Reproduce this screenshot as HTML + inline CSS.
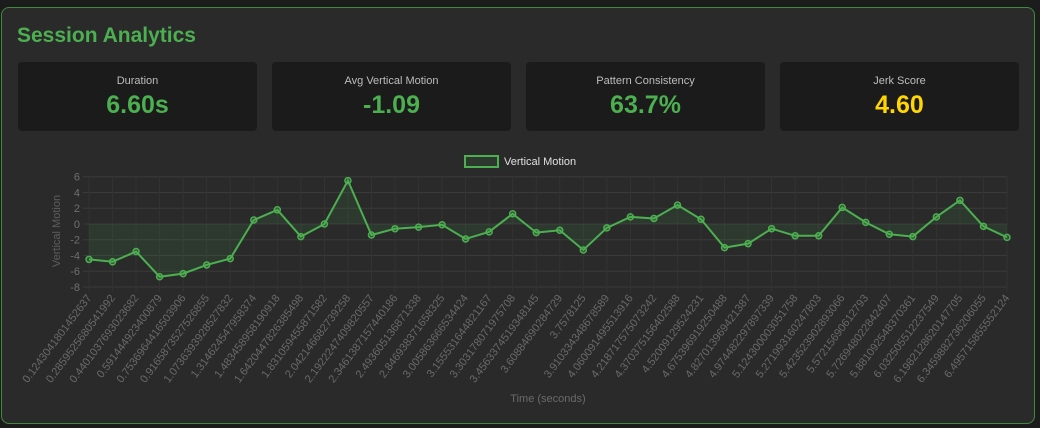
<!DOCTYPE html>
<html><head><meta charset="utf-8"><style>
body{margin:0;width:1040px;height:428px;background:#1c1c1c;font-family:"Liberation Sans",Arial,sans-serif;overflow:hidden;position:relative}
.card{position:absolute;left:1px;top:7px;width:1034px;height:417px;box-sizing:border-box;background:#2a2a2a;border:1px solid #3f8a40;border-radius:8px}
h1{position:absolute;left:17px;top:24px;margin:0;font-size:21px;font-weight:bold;color:#4caf50}
.stat{position:absolute;top:62px;width:239px;height:69px;background:#1b1b1b;border-radius:4px;text-align:center}
.lab{position:absolute;top:13px;width:100%;font-size:11px;color:#bdbdbd}
.val{position:absolute;top:29px;width:100%;font-size:25px;font-weight:bold;color:#4caf50}
svg{position:absolute;left:0;top:0}
</style></head><body>
<div class="card"></div>
<h1>Session Analytics</h1>
<div class="stat" style="left:18px"><div class="lab">Duration</div><div class="val">6.60s</div></div>
<div class="stat" style="left:272px"><div class="lab">Avg Vertical Motion</div><div class="val">-1.09</div></div>
<div class="stat" style="left:526px"><div class="lab">Pattern Consistency</div><div class="val">63.7%</div></div>
<div class="stat" style="left:780px"><div class="lab">Jerk Score</div><div class="val" style="color:#ffd600">4.60</div></div>
<svg id="chart" width="1040" height="428"></svg>
<script>
const labels=["0.1243041801452637","0.2859525680541992","0.4401037693023682","0.591444923400879","0.7536964416503906","0.9165873527526855","1.0736393928527832","1.314624547958374","1.483458958190918","1.6420447826385498","1.831059455871582","2.042146682739258","2.1922247409820557","2.3461387157440186","2.493605136871338","2.846938371658325","3.005863666534424","3.155531644821167","3.303178071975708","3.4563374519348145","3.60884690284729","3.7578125","3.910334348678589","4.060091495513916","4.218717575073242","4.370375156402588","4.52009129524231","4.675396919250488","4.827013969421387","4.974482297897339","5.124300003051758","5.271993160247803","5.423523902893066","5.57215690612793","5.726948022842407","5.881092548370361","6.032505512237549","6.1982128620147705","6.3459882736206055","6.495715855552124"];
const values=[-4.5,-4.8,-3.5,-6.7,-6.3,-5.2,-4.4,0.5,1.8,-1.6,0.0,5.5,-1.4,-0.6,-0.4,-0.1,-1.9,-1.0,1.3,-1.1,-0.8,-3.3,-0.5,0.9,0.7,2.4,0.6,-3.0,-2.5,-0.6,-1.5,-1.5,2.1,0.2,-1.3,-1.6,0.9,3.0,-0.3,-1.7];
const yTicks=[6,4,2,0,-2,-4,-6,-8];
const NS="http://www.w3.org/2000/svg";
const svg=document.getElementById('chart');
const X0=89,X1=1007,Y6=176.7,Ym8=287;
const x=i=>X0+(X1-X0)*i/(labels.length-1);
const y=v=>Y6+(6-v)*(Ym8-Y6)/14;
function mk(t,a){const e=document.createElementNS(NS,t);for(const k in a)e.setAttribute(k,a[k]);svg.appendChild(e);return e;}
yTicks.forEach(t=>{
 const l=mk('line',{x1:X0-6,x2:X1,y1:y(t),y2:y(t),stroke:'#3a3a3a','stroke-width':1});
 
 
 const tx=mk('text',{x:X0-9,y:y(t)+4,'text-anchor':'end','font-size':11,fill:'#6f6f6f'});
 tx.textContent=t;
 
 
});
labels.forEach((lb,i)=>{
 const l=mk('line',{x1:x(i),x2:x(i),y1:Y6,y2:Ym8+5,stroke:'#333','stroke-width':1});
 
 
 const tx=mk('text',{x:x(i)+3,y:Ym8+11,'text-anchor':'end','font-size':11,fill:'#6a6a6a',transform:`rotate(-53 ${x(i)+3} ${Ym8+11})`});
 tx.textContent=lb;
 
 
});
let d='M'+x(0)+','+y(0);values.forEach((v,i)=>d+=' L'+x(i)+','+y(v));d+=' L'+x(values.length-1)+','+y(0)+'Z';
const area=mk('path',{d:d,fill:'rgba(76,175,80,0.12)'});


const line=mk('polyline',{points:values.map((v,i)=>x(i)+','+y(v)).join(' '),fill:'none',stroke:'#4caf50','stroke-width':2});


values.forEach((v,i)=>{
 const c=mk('circle',{cx:x(i),cy:y(v),r:3,fill:'rgba(76,175,80,0.25)',stroke:'#4caf50','stroke-width':1.5});
 
 
});
const yt=mk('text',{x:60,y:231,'text-anchor':'middle','font-size':11,fill:'#5e5e5e',transform:'rotate(-90 60 231)'});
yt.textContent='Vertical Motion';


const xt=mk('text',{x:548,y:402,'text-anchor':'middle','font-size':11,fill:'#6a6a6a'});
xt.textContent='Time (seconds)';


const lg=mk('rect',{x:465,y:156,width:33,height:11,fill:'rgba(76,175,80,0.12)',stroke:'#4caf50','stroke-width':2});


const lt=mk('text',{x:504,y:165,'font-size':11,fill:'#e0e0e0'});
lt.textContent='Vertical Motion';


</script>
</body></html>
